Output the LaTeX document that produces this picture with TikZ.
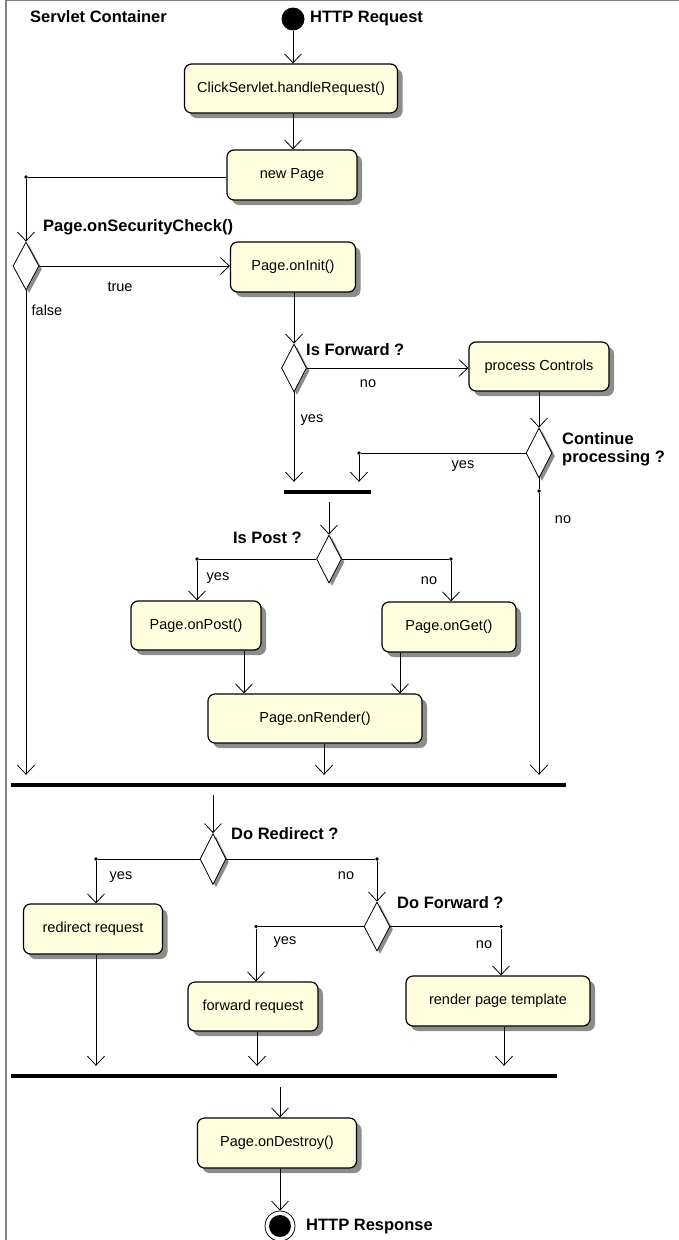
\documentclass[tikz,border=0pt]{standalone}
\usepackage{fontspec}
\setmainfont{Liberation Sans}
\usetikzlibrary{shapes.geometric,arrows.meta,shadows}
\definecolor{boxfill}{RGB}{255,255,224}
\definecolor{shadowgray}{RGB}{140,140,140}
\definecolor{framegray}{RGB}{128,128,128}
\newcommand{\nfnt}{\fontsize{14.5}{16}\selectfont}
\newcommand{\bfnt}{\fontsize{16.5}{18}\selectfont\bfseries}
\tikzset{
  actbox/.style={draw=black, line width=1.2pt, rounded corners=7pt, fill=boxfill,
    drop shadow={shadow xshift=5pt, shadow yshift=-5pt, fill=shadowgray, opacity=1},
    inner sep=0pt, font=\nfnt, minimum height=49pt},
  decn/.style={diamond, draw=black, line width=0.8pt, fill=white, inner sep=0pt,
    drop shadow={shadow xshift=3pt, shadow yshift=-3pt, fill=shadowgray, opacity=1}},
  arrw/.style={-{Straight Barb[length=9pt,width=17pt]}, line width=0.8pt},
  lnw/.style={line width=0.8pt},
  barn/.style={fill=black, draw=none, minimum height=4pt, inner sep=0pt},
  lbl/.style={font=\nfnt, inner sep=0pt},
  blbl/.style={font=\bfnt, inner sep=0pt},
  junc/.style={circle, fill=black, inner sep=0pt, minimum size=3.6pt},
}
\begin{document}
\begin{tikzpicture}[x=1pt,y=-1pt]
\useasboundingbox (0,0) rectangle (679,1240);
\draw[framegray, line width=1.5pt] (6,1240) -- (6,0.7) -- (679,0.7);

% top
\node[blbl, anchor=west] (lsc) at (30,17) {Servlet Container};
\node[circle, fill=black, minimum size=23pt, inner sep=0pt] (start) at (293,19) {};
\node[blbl, anchor=west] (lreq) at (310,19) {HTTP Request};

\node[actbox, minimum width=213pt] (ch) at (291,88.5) {ClickServlet.handleRequest()};
\draw[arrw] (start) -- (start |- ch.north);

\node[actbox, minimum width=130pt, minimum height=50pt] (np) at (292,175) {new Page};
\draw[arrw] (ch.south -| start) -- (np.north -| start);

% security check
\node[decn, minimum width=26pt, minimum height=48pt] (d1) at (26,266) {};
\node[junc] (j1) at (26,177) {};
\draw[lnw] (np.west |- j1) -- (j1);
\draw[arrw] (j1) -- (d1.north);
\node[blbl, anchor=west] (lsec) at (43,227) {Page.onSecurityCheck()};
\node[actbox, minimum width=125pt, minimum height=50pt] (oi) at (293,267) {Page.onInit()};
\draw[arrw] (d1.east) -- (d1.east -| oi.west);
\node[lbl] (ltrue) at (120,287) {true};
\node[lbl] (lfalse) at (47,310) {false};

% bars
\node[barn, minimum width=87pt] (b1) at (327.5,492) {};
\node[barn, minimum width=555pt] (B1) at (288.5,785) {};
\node[barn, minimum width=546pt] (B2) at (284,1076) {};

\draw[arrw, shorten >=8pt] (d1.south) -- (d1.south |- B1.north);

% is forward
\node[decn, minimum width=25pt, minimum height=48pt] (d2) at (294,368) {};
\draw[arrw] (oi.south -| d2) -- (d2.north);
\node[blbl, anchor=west] (lfw) at (306,350) {Is Forward ?};
\node[actbox, minimum width=140pt] (pc) at (539,366.5) {process Controls};
\draw[arrw] (d2.east) -- (d2.east -| pc.west);
\node[lbl] (lno1) at (368,384) {no};
\draw[arrw, shorten >=8pt] (d2.south) -- (d2.south |- b1.north);
\node[lbl] (lyes1) at (312,420) {yes};

% continue processing
\node[decn, minimum width=26pt, minimum height=50pt] (d3) at (539,453) {};
\draw[arrw] (pc.south) -- (d3.north);
\node[blbl, anchor=west, align=left] (lcont) at (562,449) {Continue\\processing ?};
\node[junc] (j2) at (359,453) {};
\draw[lnw] (d3.west) -- (j2);
\draw[arrw, shorten >=8pt] (j2) -- (j2 |- b1.north);
\node[lbl] (lyes2) at (463,466) {yes};
\node[junc] (j3) at (539,491) {};
\draw[lnw] (d3.south) -- (j3);
\draw[arrw, shorten >=8pt] (j3) -- (j3 |- B1.north);
\node[lbl] (lno2) at (563,520) {no};

% is post
\node[decn, minimum width=25pt, minimum height=48pt] (d4) at (329,559) {};
\draw[arrw, shorten <=8pt] (b1.south -| d4) -- (d4.north);
\node[blbl, anchor=east] (lpost) at (302,538) {Is Post ?};
\node[actbox, minimum width=130pt] (op) at (196,625.5) {Page.onPost()};
\node[actbox, minimum width=134pt, minimum height=50pt] (og) at (449,627) {Page.onGet()};
\node[junc] (j4) at (197,559) {};
\node[junc] (j5) at (451,559) {};
\draw[lnw] (d4.west) -- (j4);
\draw[arrw] (j4) -- (j4 |- op.north);
\draw[lnw] (d4.east) -- (j5);
\draw[arrw] (j5) -- (j5 |- og.north);
\node[lbl] (lyes3) at (218,578) {yes};
\node[lbl] (lno3) at (429,581) {no};
\node[actbox, minimum width=214pt] (or) at (315,718.5) {Page.onRender()};
\draw[arrw] ([xshift=48pt]op.south) -- ([xshift=48pt]op.south |- or.north);
\draw[arrw] ([xshift=-49pt]og.south) -- ([xshift=-49pt]og.south |- or.north);
\draw[arrw, shorten >=8pt] ([xshift=9pt]or.south) -- ([xshift=9pt]or.south |- B1.north);

% do redirect
\node[decn, minimum width=26pt, minimum height=51pt] (d5) at (213,859) {};
\draw[arrw, shorten <=8pt] (B1.south -| d5) -- (d5.north);
\node[blbl, anchor=west] (lred) at (231,834) {Do Redirect ?};
\node[junc] (j6) at (96,859) {};
\node[junc] (j7) at (377,859) {};
\node[actbox, minimum width=139pt, minimum height=50pt] (rr) at (93,929) {redirect request};
\node[decn, minimum width=26pt, minimum height=49pt] (d6) at (377,926.5) {};
\draw[lnw] (d5.west) -- (j6);
\draw[arrw] (j6) -- (j6 |- rr.north);
\draw[lnw] (d5.east) -- (j7);
\draw[arrw] (j7) -- (d6.north);
\node[lbl] (lyes4) at (121,877) {yes};
\node[lbl] (lno4) at (346,876) {no};

% do forward
\node[blbl, anchor=west] (lfwd) at (397,903) {Do Forward ?};
\node[junc] (j8) at (256,926.5) {};
\node[junc] (j9) at (501,926.5) {};
\node[actbox, minimum width=130pt] (fr) at (253,1006.5) {forward request};
\node[actbox, minimum width=184pt, minimum height=50pt] (rt) at (498,1001) {render page template};
\draw[lnw] (d6.west) -- (j8);
\draw[arrw] (j8) -- (j8 |- fr.north);
\draw[lnw] (d6.east) -- (j9);
\draw[arrw] (j9) -- (j9 |- rt.north);
\node[lbl] (lyes5) at (285,942) {yes};
\node[lbl] (lno5) at (484,945) {no};

\draw[arrw, shorten >=8pt] (j6 |- rr.south) -- (j6 |- B2.north);
\draw[arrw, shorten >=8pt] ([xshift=4pt]fr.south) -- ([xshift=4pt]fr.south |- B2.north);
\draw[arrw, shorten >=8pt] ([xshift=6pt]rt.south) -- ([xshift=6pt]rt.south |- B2.north);

% destroy and end
\node[actbox, minimum width=159pt, minimum height=50pt] (od) at (277,1143) {Page.onDestroy()};
\node[circle, draw=black, line width=0.8pt, minimum size=30pt, inner sep=0pt] (en) at (280,1226) {};
\node[circle, fill=black, minimum size=22pt, inner sep=0pt] (enin) at (en) {};
\draw[arrw, shorten <=9pt] (B2.south -| en) -- (od.north -| en);
\draw[arrw] (od.south -| en) -- (en.north);
\node[blbl, anchor=west] (lresp) at (306,1227) {HTTP Response};
\end{tikzpicture}
\end{document}
